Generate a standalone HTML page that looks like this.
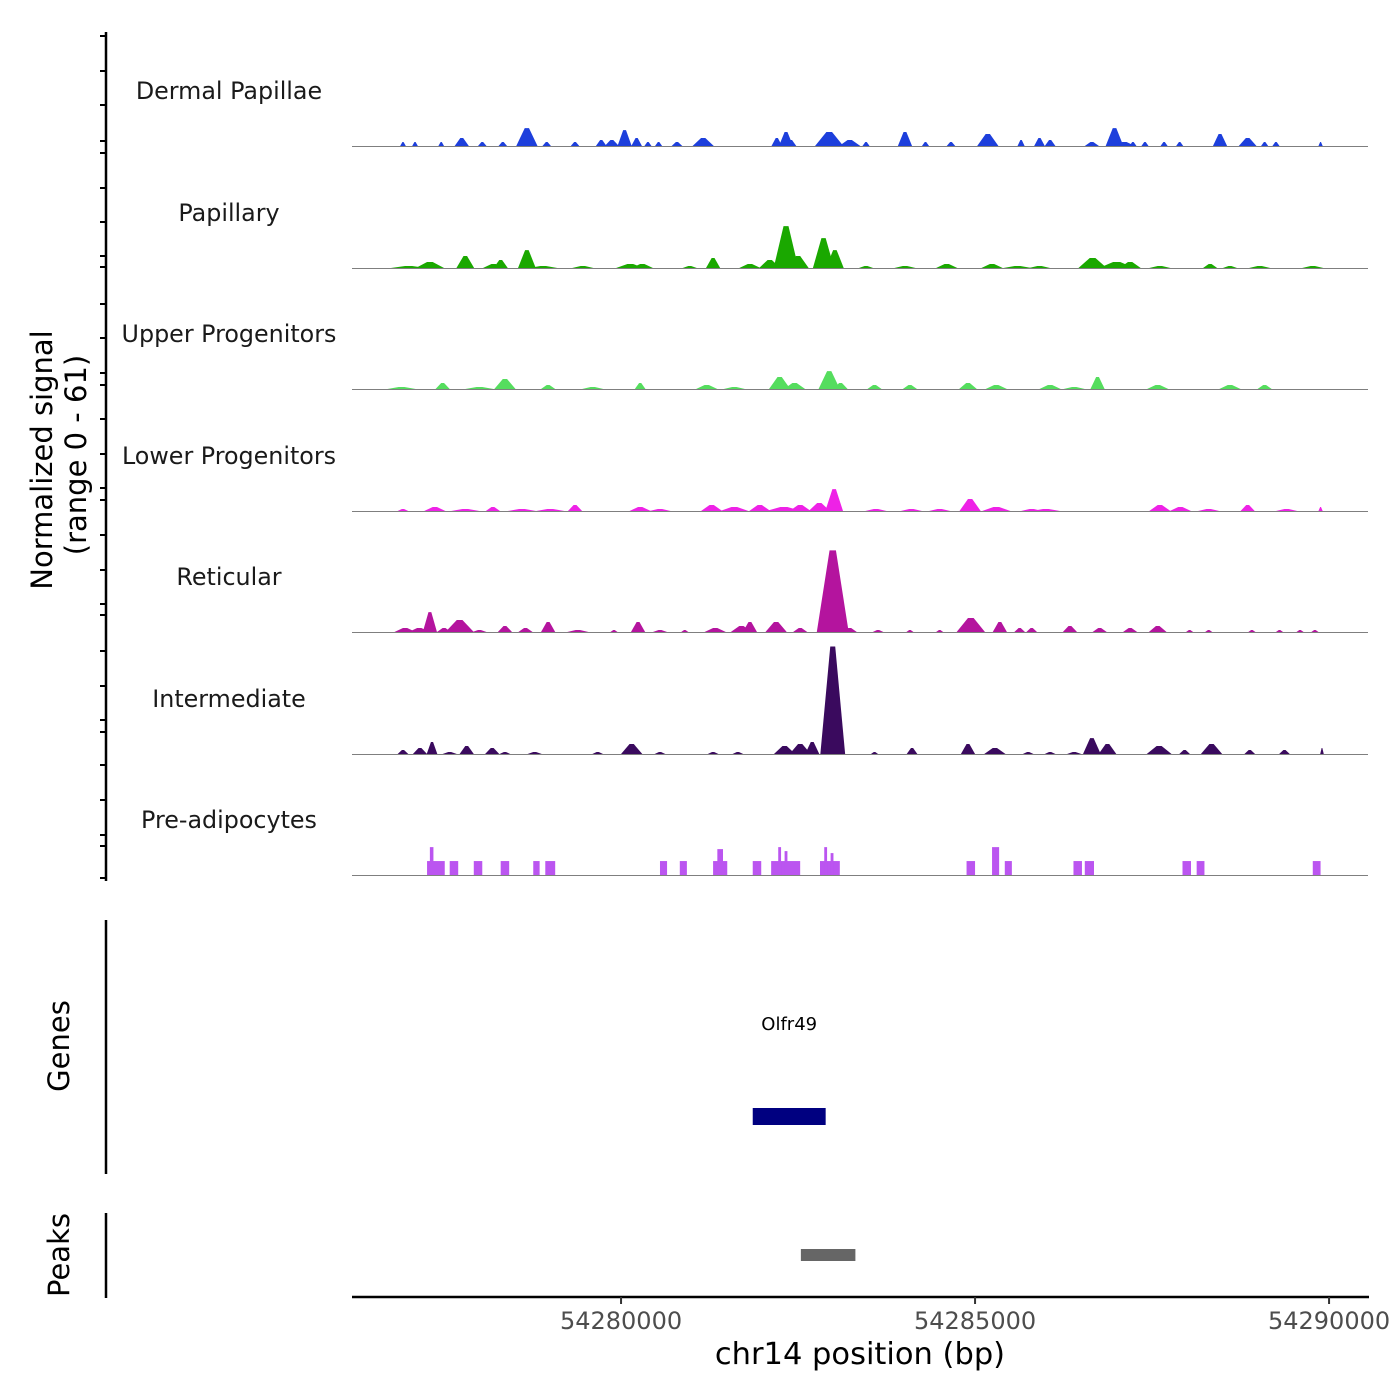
<!DOCTYPE html>
<html><head><meta charset="utf-8"><style>
body{margin:0;background:#fff;}
svg{display:block;font-family:"DejaVu Sans","Liberation Sans",sans-serif;}
</style></head><body>
<svg id="chart" width="1400" height="1400" viewBox="0 0 1400 1400"></svg>
<script>
// ---- data (positions in kb offset from 54276000, values in normalized signal 0-61)
const trackNames = ["Dermal Papillae","Papillary","Upper Progenitors","Lower Progenitors","Reticular","Intermediate","Pre-adipocytes"];
const trackColors = ["#1d3fdc","#1aa800","#55dd5e","#ee22e6","#b4149e","#3a0a5e","#bb55f0"];
const xTickValues = [54280000,54285000,54290000];
const xTickLabels = ["54280000","54285000","54290000"];
const yRangeMax = 61;
// [centerKb, value, widthKb]
const dermalPeaks = [[0.92,2,0.08],[1.09,2,0.08],[1.46,2,0.08],[1.75,4,0.2],[2.04,2,0.12],[2.33,2,0.12],[2.67,9,0.3],[2.95,2,0.12],[3.35,2,0.12],[3.72,3,0.15],[3.87,3,0.2],[4.05,8,0.2],[4.22,4,0.15],[4.38,2,0.1],[4.53,2,0.1],[4.79,2,0.15],[5.16,4,0.3],[6.2,4,0.15],[6.33,7,0.2],[6.4,3,0.15],[6.94,7,0.4],[7.23,3,0.3],[7.46,2,0.1],[8.01,7,0.2],[8.3,2,0.1],[8.66,2,0.12],[9.18,6,0.3],[9.65,3,0.1],[9.91,4,0.15],[10.06,3,0.15],[10.65,2,0.2],[10.97,9,0.25],[11.11,2,0.3],[11.23,2,0.1],[11.4,2,0.1],[11.67,2,0.1],[11.89,2,0.1],[12.46,6,0.2],[12.85,4,0.25],[13.09,2,0.1],[13.25,2,0.1],[13.88,2,0.06]];
const papillaryPeaks = [[1.0,1,0.5],[1.3,3,0.4],[1.8,6,0.25],[2.2,2,0.3],[2.3,4,0.2],[2.67,9,0.25],[2.9,1,0.4],[3.46,1,0.3],[4.13,2,0.4],[4.3,2,0.3],[4.97,1,0.2],[5.3,5,0.2],[5.82,2,0.3],[6.1,4,0.3],[6.33,21,0.35],[6.5,6,0.3],[6.86,15,0.3],[7.02,9,0.25],[7.46,1,0.2],[8.01,1,0.3],[8.6,2,0.3],[9.24,2,0.3],[9.6,1,0.4],[9.91,1,0.3],[10.66,5,0.4],[11.0,3,0.5],[11.19,3,0.3],[11.61,1,0.3],[12.32,2,0.2],[12.6,1,0.2],[13.02,1,0.3],[13.77,1,0.3]];
const upperPeaks = [[0.9,1,0.4],[1.48,3,0.2],[2.0,1,0.4],[2.36,5,0.3],[2.97,2,0.2],[3.6,1,0.3],[4.27,3,0.15],[5.21,2,0.3],[5.6,1,0.3],[6.24,6,0.3],[6.45,3,0.3],[6.94,9,0.3],[7.1,3,0.2],[7.58,2,0.2],[8.08,2,0.2],[8.9,3,0.25],[9.3,2,0.3],[10.06,2,0.3],[10.4,1,0.3],[10.73,6,0.2],[11.58,2,0.3],[12.6,2,0.3],[13.09,2,0.2]];
const lowerPeaks = [[0.92,1,0.15],[1.37,2,0.3],[1.8,1,0.4],[2.19,2,0.2],[2.6,1,0.4],[3.35,3,0.2],[3.0,1,0.4],[4.27,2,0.3],[4.55,1,0.3],[5.28,3,0.3],[5.6,2,0.4],[5.96,3,0.3],[6.3,2,0.5],[6.53,3,0.3],[6.8,4,0.3],[7.01,11,0.25],[7.6,1,0.3],[8.1,1,0.3],[8.5,1,0.3],[8.93,6,0.3],[9.3,2,0.4],[9.8,1,0.3],[10.0,1,0.4],[11.61,3,0.3],[11.9,2,0.3],[12.3,1,0.3],[12.85,3,0.2],[13.4,1,0.3],[13.88,2,0.06]];
const reticularPeaks = [[0.95,2,0.3],[1.15,2,0.3],[1.3,10,0.2],[1.5,2,0.2],[1.72,6,0.4],[2.0,1,0.2],[2.36,3,0.2],[2.65,2,0.2],[2.97,5,0.2],[3.39,1,0.3],[3.9,1,0.1],[4.24,5,0.2],[4.55,1,0.2],[4.9,1,0.1],[5.33,2,0.3],[5.82,5,0.2],[5.7,3,0.3],[6.19,5,0.3],[6.53,2,0.2],[6.99,41,0.45],[7.23,2,0.2],[7.63,1,0.15],[8.08,1,0.1],[8.5,1,0.1],[8.94,7,0.4],[9.35,5,0.2],[9.63,2,0.15],[9.8,2,0.15],[10.34,3,0.2],[10.76,2,0.2],[11.19,2,0.2],[11.58,3,0.25],[12.03,1,0.1],[12.3,1,0.1],[12.91,1,0.1],[13.3,1,0.1],[13.59,1,0.1],[13.8,1,0.1]];
const intermediatePeaks = [[0.92,2,0.15],[1.16,3,0.2],[1.33,6,0.15],[1.58,1,0.2],[1.82,4,0.2],[2.18,3,0.2],[2.36,1,0.15],[2.78,1,0.2],[3.67,1,0.15],[4.15,5,0.3],[4.55,1,0.15],[5.3,1,0.15],[5.65,1,0.15],[6.31,4,0.3],[6.53,5,0.3],[6.7,6,0.2],[6.99,54,0.35],[7.58,1,0.1],[8.11,3,0.15],[8.9,5,0.2],[9.28,3,0.3],[9.75,1,0.15],[10.06,1,0.15],[10.4,1,0.2],[10.65,8,0.25],[10.87,5,0.25],[11.6,4,0.35],[11.96,2,0.15],[12.34,5,0.3],[12.88,2,0.15],[13.37,2,0.15],[13.9,3,0.05]];
// Pre-adipocytes: [startKb, endKb, value]
const preadipoBlocks = [[1.26,1.51,7],[1.30,1.35,14],[1.58,1.70,7],[1.92,2.04,7],[2.30,2.42,7],[2.76,2.85,7],[2.93,3.07,7],[4.55,4.65,7],[4.83,4.93,7],[5.30,5.50,7],[5.36,5.44,13],[5.86,5.98,7],[6.12,6.53,7],[6.22,6.26,14],[6.31,6.35,12],[6.81,7.09,7],[6.87,6.91,14],[6.96,7.00,11],[8.88,9.00,7],[9.24,9.34,14],[9.42,9.52,7],[10.39,10.51,7],[10.55,10.68,7],[11.93,12.05,7],[12.13,12.24,7],[13.77,13.88,7]];
const geneName = "Olfr49";
const geneStart = 54281860, geneEnd = 54282890;
const peakStart = 54282540, peakEnd = 54283310;

// ---- scales
const NS="http://www.w3.org/2000/svg";
const svg=document.getElementById('chart');
const X0=352,X1=1368, D0=54276200, D1=54290550;
const xs = bp => X0 + (bp-D0)/(D1-D0)*(X1-X0);
const kb = k => 54276000 + k*1000;
const baselines=[146,268,389,511,632,754,875];
const trackH=121.5;
const ys = (i,v) => baselines[i] - v/yRangeMax*trackH;
function mk(tag,attrs,parent){const e=document.createElementNS(NS,tag);for(const k in attrs)e.setAttribute(k,attrs[k]);(parent||svg).appendChild(e);return e;}
function txt(s,attrs,parent){const e=mk('text',attrs,parent);e.textContent=s;return e;}

const allPeaks=[dermalPeaks,papillaryPeaks,upperPeaks,lowerPeaks,reticularPeaks,intermediatePeaks];
trackNames.forEach((name,i)=>{
  const g=mk('g',{});
  
  
  const lab=txt(name,{x:229,y:baselines[i]-47,'text-anchor':'middle','font-size':23.8,fill:'#1a1a1a'},g);
  
  
  if(i<6){
    allPeaks[i].forEach(p=>{
      const c=kb(p[0]),w=p[2]*1000,v=p[1];
      const pts=[[xs(c-w/2),baselines[i]],[xs(c-w*0.1),ys(i,v)],[xs(c+w*0.1),ys(i,v)],[xs(c+w/2),baselines[i]]];
      const pg=mk('polygon',{points:pts.map(q=>q.join(',')).join(' '),fill:trackColors[i]},g);
      
      
    });
  } else {
    preadipoBlocks.forEach(b=>{
      const r=mk('rect',{x:xs(kb(b[0])),y:ys(i,b[2]),width:xs(kb(b[1]))-xs(kb(b[0])),height:baselines[i]-ys(i,b[2]),fill:trackColors[i]},g);
      
      
    });
  }
  const bl=mk('line',{x1:X0,x2:X1,y1:baselines[i]+0.5,y2:baselines[i]+0.5,stroke:'#7f7f7f','stroke-width':1},g);
  
  
});

// left axis
const ax=mk('line',{x1:106,x2:106,y1:32,y2:881,stroke:'#000','stroke-width':2.5});


[36,71,105,141,153,188,222,256,267,304,338,373,385,419,454,488,500,535,570,604,615,651,686,720,732,765,800,835,846,878].forEach(y=>{
  const t=mk('line',{x1:100,x2:106,y1:y,y2:y,stroke:'#000','stroke-width':2});
  
  
});
let t1=txt('Normalized signal',{x:0,y:0,transform:'translate(52,460) rotate(-90)','text-anchor':'middle','font-size':29,fill:'#000'});


let t2=txt('(range 0 - 61)',{x:0,y:0,transform:'translate(86,455) rotate(-90)','text-anchor':'middle','font-size':29,fill:'#000'});



// genes
let ga=mk('line',{x1:106,x2:106,y1:920,y2:1174,stroke:'#000','stroke-width':2.5});


let gt=txt('Genes',{x:0,y:0,transform:'translate(69,1046) rotate(-90)','text-anchor':'middle','font-size':29,fill:'#000'});


let gl=txt(geneName,{x:(xs(geneStart)+xs(geneEnd))/2,y:1030,'text-anchor':'middle','font-size':18,fill:'#000'});


let gb=mk('rect',{x:xs(geneStart),y:1108,width:xs(geneEnd)-xs(geneStart),height:17,fill:'#000080'});



// peaks
let pa=mk('line',{x1:106,x2:106,y1:1213,y2:1298,stroke:'#000','stroke-width':2.5});


let pt=txt('Peaks',{x:0,y:0,transform:'translate(69,1255) rotate(-90)','text-anchor':'middle','font-size':29,fill:'#000'});


let pb=mk('rect',{x:xs(peakStart),y:1249,width:xs(peakEnd)-xs(peakStart),height:12,fill:'#666'});



// x axis
let xa=mk('line',{x1:352,x2:1369,y1:1297,y2:1297,stroke:'#000','stroke-width':2.5});


xTickValues.forEach((v,i)=>{
  const tk=mk('line',{x1:xs(v),x2:xs(v),y1:1297,y2:1304,stroke:'#333','stroke-width':2});
  
  
  const tl=txt(xTickLabels[i],{x:xs(v),y:1329,'text-anchor':'middle','font-size':24,fill:'#4d4d4d'});
  
  
});
let xt=txt('chr14 position (bp)',{x:860,y:1364,'text-anchor':'middle','font-size':30.5,fill:'#000'});


</script>
</body></html>
